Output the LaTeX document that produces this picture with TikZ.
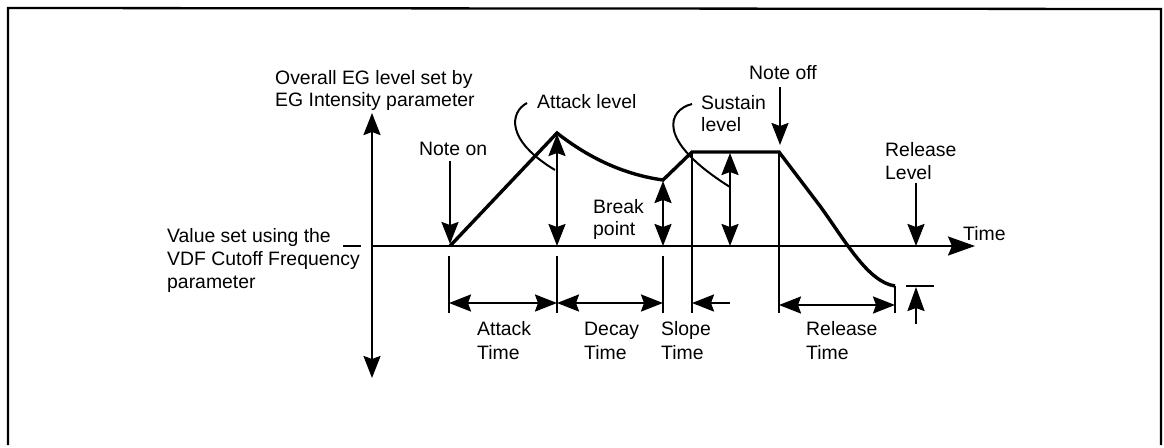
\documentclass[tikz,border=0pt]{standalone}
\usepackage{fontspec}
\setmainfont{Liberation Sans}
\usetikzlibrary{arrows.meta}
\tikzset{
  lbl/.style={inner sep=0pt, anchor=base west, font=\fontsize{19.4}{23}\selectfont},
  env/.style={line width=3.4pt, line join=miter},
  thin/.style={line width=2.3pt},
  tip/.style={Stealth[length=22pt,width=17pt,inset=3pt]},
  arr/.style={line width=2.3pt, -{Stealth[length=22pt,width=17pt,inset=3pt]}},
  darr/.style={line width=2.3pt, {Stealth[length=22pt,width=17pt,inset=3pt]}-{Stealth[length=22pt,width=17pt,inset=3pt]}},
  leader/.style={line width=2pt}
}
\begin{document}
\begin{tikzpicture}[x=1pt,y=-1pt]
\useasboundingbox (0,0) rectangle (1164,447);
% frame
\draw[thin] (8,445) -- (8,8) -- (1161,9) -- (1161,445);

% texts
\node[lbl] (ov1) at (275,84) {Overall EG level set by};
\node[lbl] (ov2) at (275,106) {EG Intensity parameter};
\node[lbl] (vs1) at (167,242) {Value set using the};
\node[lbl] (vs2) at (167,265) {VDF Cutoff Frequency};
\node[lbl] (vs3) at (167,288) {parameter};
\node[lbl] (non) at (419,155) {Note on};
\node[lbl] (atl) at (537,108) {Attack level};
\node[lbl] (su1) at (701,109) {Sustain};
\node[lbl] (su2) at (701,131) {level};
\node[lbl] (br1) at (593,213) {Break};
\node[lbl] (br2) at (593,235) {point};
\node[lbl] (nof) at (749,79) {Note off};
\node[lbl] (rl1) at (885,156) {Release};
\node[lbl] (rl2) at (885,179) {Level};
\node[lbl] (tim) at (963,240) {Time};
\node[lbl] (at1) at (477,335) {Attack};
\node[lbl] (at2) at (477,359) {Time};
\node[lbl] (de1) at (584,335) {Decay};
\node[lbl] (de2) at (584,359) {Time};
\node[lbl] (sl1) at (661,335) {Slope};
\node[lbl] (sl2) at (661,359) {Time};
\node[lbl] (re1) at (806,335) {Release};
\node[lbl] (re2) at (806,359) {Time};

% key coordinates
\coordinate (vtop) at (372,113);
\coordinate (vbot) at (372,378);
\coordinate (ax0) at (372,246);
\coordinate (ax1) at (975,246);
\coordinate (dash0) at (343,246);
\coordinate (dash1) at (361,246);
\coordinate (start) at (450,246);
\coordinate (peak) at (557,133);
\coordinate (brk) at (663,180);
\coordinate (sus0) at (692,152);
\coordinate (noff) at (779,152);
\coordinate (rmid) at (820,206);
\coordinate (rend) at (895,286);

% axes
\draw[darr] (vtop) -- (vbot);
\draw[line width=2.3pt, -{Stealth[length=27pt,width=19pt,inset=4pt]}] (ax0) -- (ax1);
\draw[thin] (dash0) -- (dash1);

% envelope
\draw[env] (start) -- (peak) .. controls (585,155) and (620,174) .. (brk)
  -- (sus0) -- (noff) -- (rmid) .. controls (846,242) and (868,282) .. (rend);

% leaders
\draw[leader] (527,103) .. controls (510,112) and (505,140) .. (555,170);
\draw[leader] (692,104) .. controls (668,110) and (655,140) .. (730,187);

% level arrows
\draw[arr] (450,161) -- (450,244);
\draw[arr] (780,87) -- (780,145);
\draw[darr] (557,134) -- (557,246);
\draw[darr] (663,181) -- (663,246);
\draw[darr] (730,153) -- (730,246);
\draw[arr] (916,183) -- (916,246);

% ticks / verticals
\draw[thin] (449,256) -- (449,313);
\draw[thin] (557,256) -- (557,313);
\draw[thin] (663,256) -- (663,313);
\draw[thin] (sus0) -- (692,313);
\draw[thin] (noff) -- (779,313);
\draw[thin] (rend) -- (895,313);

% time dimension arrows
\draw[darr] (449,303) -- (557,303);
\draw[darr] (557,303) -- (663,303);
\draw[arr] (730,303) -- (692,303);
\draw[darr] (779,305) -- (895,305);

% release level marker
\draw[thin] (906,286) -- (934,286);
\draw[line width=2.3pt, -{Stealth[length=24pt,width=17pt,inset=3pt]}] (916,324) -- (916,287);
\end{tikzpicture}
\end{document}
